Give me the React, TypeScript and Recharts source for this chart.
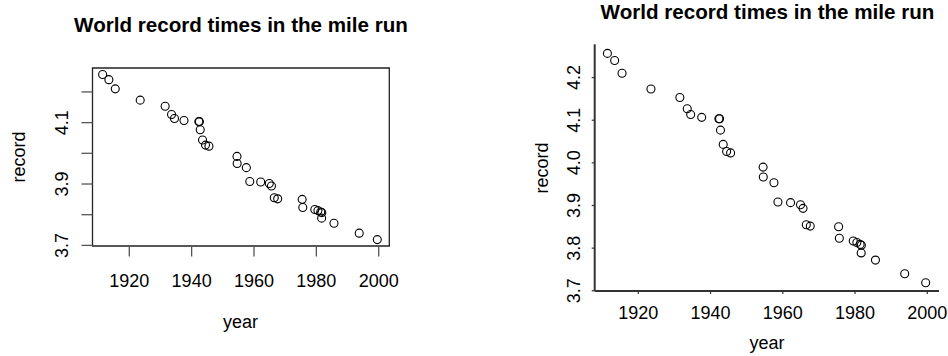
import React from "react";
import {
  ScatterChart,
  Scatter,
  XAxis,
  YAxis,
  ReferenceArea,
} from "recharts";

// mile world record times (year, minutes)
const years = [
  1911.45, 1913.45, 1915.5, 1923.5, 1931.5, 1933.55, 1934.5, 1937.55, 1942.3,
  1942.5, 1942.75, 1943.5, 1944.45, 1945.55, 1954.55, 1954.6, 1957.55, 1958.65,
  1962.15, 1964.9, 1965.6, 1966.5, 1967.6, 1975.45, 1975.65, 1979.5, 1980.5,
  1981.4, 1981.75, 1981.7, 1985.65, 1993.75, 1999.55,
];
const records = [
  4.2567, 4.24, 4.21, 4.1733, 4.1533, 4.1267, 4.1133, 4.1067, 4.1033, 4.1033,
  4.0767, 4.0433, 4.0267, 4.0233, 3.99, 3.9667, 3.9533, 3.9083, 3.9067, 3.9017,
  3.8933, 3.855, 3.8517, 3.85, 3.8233, 3.8167, 3.8133, 3.8088, 3.8067, 3.7888,
  3.772, 3.7398, 3.7188,
];
const xTicks = [1920, 1940, 1960, 1980, 2000];
const yTicks = [3.7, 3.8, 3.9, 4.0, 4.1, 4.2];
const leftYLabelled = [3.7, 3.9, 4.1];

const title = "World record times in the mile run";
const xLabel = "year";
const yLabel = "record";

const data = years.map((year, i) => ({ year, record: records[i] }));

const FONT = "'Liberation Sans', Arial, Helvetica, sans-serif";

// open circle like R's pch = 1
const Ring = (props: any) => (
  <circle cx={props.cx} cy={props.cy} r={4} fill="none" stroke="#000" strokeWidth={1.1} />
);

function LeftPlot() {
  const xDomain = [1908.2, 2003.4];
  const yDomain = [3.698, 4.278];
  return (
    <div style={{ position: "absolute", left: 0, top: 0, width: 474, height: 356 }}>
      <div
        style={{
          position: "absolute",
          left: 0,
          top: 14.5,
          width: 482,
          textAlign: "center",
          fontFamily: FONT,
          fontWeight: "bold",
          fontSize: 20.6,
          lineHeight: "20px",
          color: "#000",
          whiteSpace: "nowrap",
        }}
      >
        {title}
      </div>
      <ScatterChart
        width={474}
        height={356}
        margin={{ top: 68, right: 84.7, bottom: 60, left: 32.5 }}
      >
        <XAxis
          type="number"
          dataKey="year"
          domain={xDomain}
          ticks={xTicks}
          allowDataOverflow
          axisLine={false}
          tickSize={10.5}
          tickMargin={0}
          height={50}
          tickLine={{ stroke: "#555", strokeWidth: 1.3 }}
          tick={(p: any) => (
            <text
              x={p.x}
              y={p.y + 30}
              textAnchor="middle"
              fontFamily={FONT}
              fontSize={18}
              fill="#000"
            >
              {p.payload.value}
            </text>
          )}
          label={() => (
            <text x={240.5} y={328.3} textAnchor="middle" fontFamily={FONT} fontSize={18} fill="#000">
              {xLabel}
            </text>
          )}
        />
        <YAxis
          type="number"
          dataKey="record"
          domain={yDomain}
          ticks={yTicks}
          allowDataOverflow
          axisLine={false}
          tickSize={11}
          tickMargin={0}
          width={60}
          tickLine={{ stroke: "#555", strokeWidth: 1.3 }}
          tick={(p: any) =>
            leftYLabelled.some((v) => Math.abs(v - p.payload.value) < 1e-6) ? (
              <text
                x={68.3}
                y={p.y}
                transform={`rotate(-90, 68.3, ${p.y})`}
                textAnchor="middle"
                fontFamily={FONT}
                fontSize={18}
                fill="#000"
              >
                {Number(p.payload.value).toFixed(1)}
              </text>
            ) : (
              <g />
            )
          }
          label={() => (
            <text
              x={24.7}
              y={157}
              transform="rotate(-90, 24.7, 157)"
              textAnchor="middle"
              fontFamily={FONT}
              fontSize={18}
              fill="#000"
            >
              {yLabel}
            </text>
          )}
        />
        <ReferenceArea
          x1={xDomain[0]}
          x2={xDomain[1]}
          y1={yDomain[0]}
          y2={yDomain[1]}
          fill="none"
          stroke="#222"
          strokeWidth={1.3}
          ifOverflow="visible"
        />
        <Scatter data={data} shape={Ring} isAnimationActive={false} />
      </ScatterChart>
    </div>
  );
}

function RightPlot() {
  const xDomain = [1907.93, 2003.24];
  const yDomain = [3.6995, 4.278];
  return (
    <div style={{ position: "absolute", left: 474, top: 0, width: 474, height: 356 }}>
      <div
        style={{
          position: "absolute",
          left: 0,
          top: 2.1,
          width: 587,
          textAlign: "center",
          fontFamily: FONT,
          fontWeight: "bold",
          fontSize: 20.6,
          lineHeight: "20px",
          color: "#000",
          whiteSpace: "nowrap",
        }}
      >
        {title}
      </div>
      <ScatterChart
        width={474}
        height={356}
        margin={{ top: 44.3, right: 9, bottom: 25, left: 60.7 }}
      >
        <XAxis
          type="number"
          dataKey="year"
          domain={xDomain}
          ticks={xTicks}
          allowDataOverflow
          axisLine={{ stroke: "#333", strokeWidth: 2 }}
          tickSize={3}
          tickMargin={0}
          height={40}
          tickLine={{ stroke: "#333", strokeWidth: 1.2 }}
          tick={(p: any) => (
            <text
              x={p.x}
              y={p.y + 25.3}
              textAnchor="middle"
              fontFamily={FONT}
              fontSize={18}
              fill="#000"
            >
              {p.payload.value}
            </text>
          )}
          label={() => (
            <text x={293} y={349.3} textAnchor="middle" fontFamily={FONT} fontSize={18} fill="#000">
              {xLabel}
            </text>
          )}
        />
        <YAxis
          type="number"
          dataKey="record"
          domain={yDomain}
          ticks={yTicks}
          allowDataOverflow
          axisLine={{ stroke: "#333", strokeWidth: 2 }}
          tickSize={3}
          tickMargin={0}
          width={60}
          tickLine={{ stroke: "#333", strokeWidth: 1.2 }}
          tick={(p: any) => (
            <text
              x={106.5}
              y={p.y}
              transform={`rotate(-90, 106.5, ${p.y})`}
              textAnchor="middle"
              fontFamily={FONT}
              fontSize={18}
              fill="#000"
            >
              {Number(p.payload.value).toFixed(1)}
            </text>
          )}
          label={() => (
            <text
              x={74}
              y={168}
              transform="rotate(-90, 74, 168)"
              textAnchor="middle"
              fontFamily={FONT}
              fontSize={18}
              fill="#000"
            >
              {yLabel}
            </text>
          )}
        />
        <Scatter data={data} shape={Ring} isAnimationActive={false} />
      </ScatterChart>
    </div>
  );
}

export default function App() {
  return (
    <div
      style={{
        position: "absolute",
        left: 0,
        top: 0,
        width: 948,
        height: 356,
        background: "#fff",
        overflow: "hidden",
      }}
    >
      <LeftPlot />
      <RightPlot />
    </div>
  );
}
